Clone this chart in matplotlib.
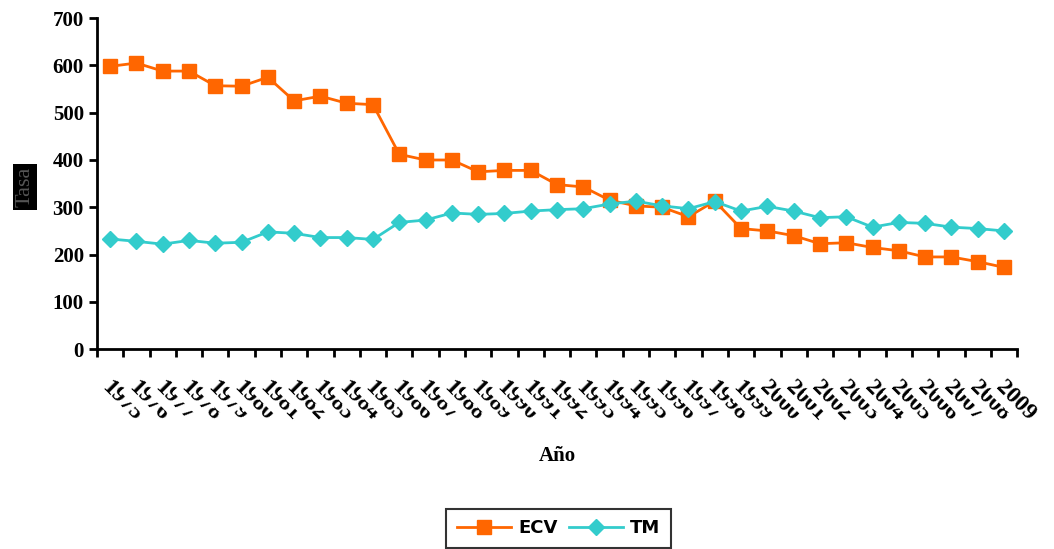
import matplotlib
matplotlib.use('Agg')
import matplotlib.pyplot as plt
import numpy as np

# datos
anios = list(range(1975, 2010))
ecv = [598, 605, 588, 588, 557, 556, 575, 525, 535, 520, 517, 412, 400, 400, 375, 378, 378,
       348, 343, 315, 303, 300, 280, 313, 255, 250, 240, 223, 225, 215, 208, 195, 195, 185, 173]
tm = [233, 228, 222, 230, 224, 226, 248, 245, 236, 236, 232, 268, 273, 288, 285, 287, 292,
      295, 297, 307, 313, 303, 297, 312, 292, 302, 292, 278, 280, 258, 268, 266, 258, 255, 250]

fig = plt.figure(figsize=(10.54, 5.49), dpi=100)
ax = fig.add_axes([0.092, 0.364, 0.873, 0.603])
x = np.arange(len(anios))

l1, = ax.plot(x, ecv, color='#FF6600', marker='s', markersize=10, lw=2, label='ECV')
l2, = ax.plot(x, tm, color='#33CCCC', marker='D', markersize=8, lw=2, label='TM')

ax.set_xlim(-0.5, len(anios) - 0.5)
ax.set_ylim(0, 700)
ax.set_yticks(range(0, 701, 100))
ax.set_yticklabels([str(v) for v in range(0, 701, 100)],
                   fontfamily='Liberation Serif', fontweight='bold', fontsize=15)
ax.set_xticks(np.arange(-0.5, len(anios)), minor=False)
ax.set_xticklabels([])
ax.tick_params(axis='x', length=6, width=2)
ax.tick_params(axis='y', length=6, width=2)
for s in ['top', 'right']:
    ax.spines[s].set_visible(False)
for s in ['left', 'bottom']:
    ax.spines[s].set_linewidth(2)

# etiquetas solapadas (cada una tapa a la anterior)
for i, a in enumerate(anios):
    ax.annotate(str(a), xy=(i, 0), xycoords=('data', 'axes fraction'),
                xytext=(2, -20), textcoords='offset points',
                rotation=-45, ha='left', va='top', rotation_mode='anchor',
                fontfamily='Liberation Serif', fontweight='bold', fontsize=17,
                bbox=dict(facecolor='white', edgecolor='none', pad=2),
                annotation_clip=False)

ax.set_xlabel('Año', fontfamily='Liberation Serif', fontweight='bold', fontsize=15, labelpad=60)
fig.text(0.024, 0.66, 'Tasa', rotation=90, ha='center', va='center', color='#555555',
         fontfamily='Liberation Serif', fontsize=16,
         bbox=dict(facecolor='black', edgecolor='none', pad=2))

leg = fig.legend(handles=[l1, l2], loc='lower center', bbox_to_anchor=(0.53, -0.015), ncol=2,
                 prop={'family': 'DejaVu Sans', 'weight': 'bold', 'size': 13},
                 frameon=True, fancybox=False, edgecolor='black', handlelength=3.0,
                 borderpad=0.6, columnspacing=0.6, handletextpad=0.4)
leg.get_frame().set_linewidth(1.5)

fig.savefig('out.png', dpi=100)
